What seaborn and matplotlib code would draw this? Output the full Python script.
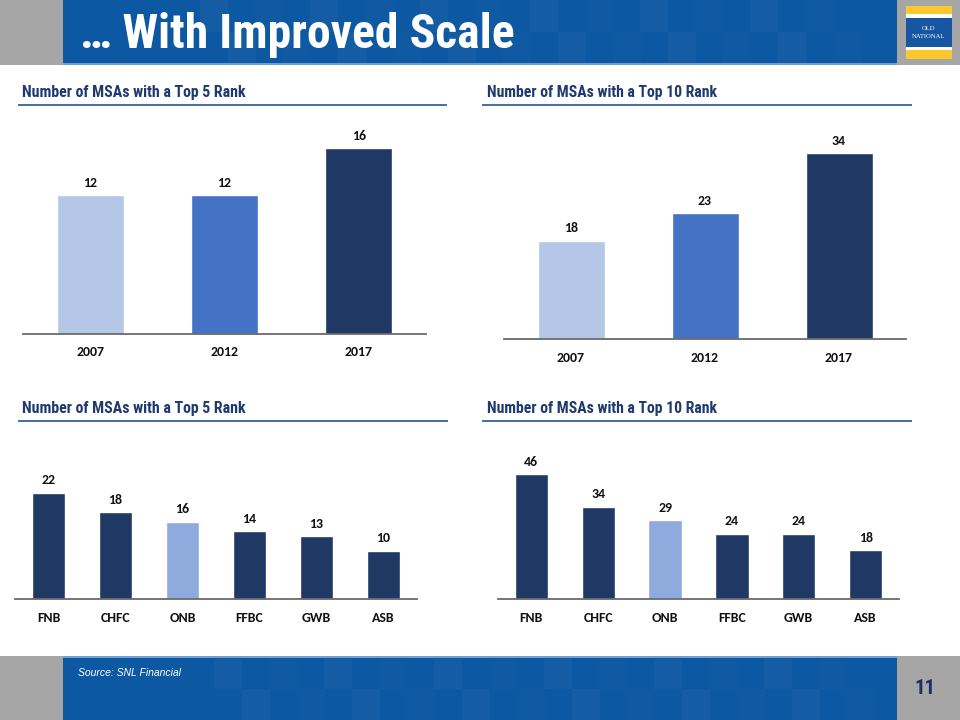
import matplotlib
matplotlib.use('Agg')
import matplotlib.pyplot as plt
import seaborn as sns
import pandas as pd
from matplotlib.patches import Rectangle
from matplotlib import font_manager as fm

# ---- data ----
years = ['2007', '2012', '2017']
top5_by_year = [12, 12, 16]
top10_by_year = [18, 23, 34]
banks = ['FNB', 'CHFC', 'ONB', 'FFBC', 'GWB', 'ASB']
top5_by_bank = [22, 18, 16, 14, 13, 10]
top10_by_bank = [46, 34, 29, 24, 24, 18]
year_colors = ['#B4C7E7', '#4472C4', '#203864']
bank_colors = ['#203864', '#203864', '#8FAADC', '#203864', '#203864', '#203864']

sns.set_theme(style='white')
CAL = ['Carlito', 'Lato', 'DejaVu Sans']
plt.rcParams['font.family'] = CAL

# choose the narrowest available sans for the Arial-Narrow style headings
ttf = fm.fontManager.ttflist
names = {f.name for f in ttf}
if 'Liberation Sans Narrow' in names:
    NARROW_KW = dict(family=['Liberation Sans Narrow', 'DejaVu Sans'])
elif 'Arial Narrow' in names:
    NARROW_KW = dict(family=['Arial Narrow', 'DejaVu Sans'])
elif 'Roboto Condensed' in names:
    NARROW_KW = dict(family=['Roboto Condensed', 'DejaVu Sans'])
elif any(f.name == 'DejaVu Sans' and 'condensed' in str(f.stretch).lower() for f in ttf):
    NARROW_KW = dict(family=['DejaVu Sans'], fontstretch='condensed')
elif 'Roboto' in names:
    NARROW_KW = dict(family=['Roboto', 'DejaVu Sans'])
else:
    NARROW_KW = dict(family=['Liberation Sans', 'DejaVu Sans'])

W, H = 960, 720
fig = plt.figure(figsize=(9.6, 7.2), dpi=100)
fig.patch.set_facecolor('white')
renderer = fig.canvas.get_renderer()


def fit_width(t, target):
    bb = t.get_window_extent(renderer)
    if bb.width > 0:
        t.set_fontsize(t.get_fontsize() * target / bb.width)


# background / decoration axes in pixel coordinates
bg = fig.add_axes([0, 0, 1, 1], zorder=-10)
bg.set_xlim(0, W)
bg.set_ylim(H, 0)
bg.axis('off')

GRAY = '#A6A6A6'
BLUE = '#0D58A3'
# header
bg.add_patch(Rectangle((0, 0), 63, 65, color=GRAY, lw=0))
bg.add_patch(Rectangle((63, 0), 834, 65, color=BLUE, lw=0))
bg.add_patch(Rectangle((897, 0), 63, 65, color=GRAY, lw=0))
bg.add_patch(Rectangle((63, 63), 834, 2, color='#6F9FD0', lw=0))
# footer
bg.add_patch(Rectangle((0, 656), 63, 64, color=GRAY, lw=0))
bg.add_patch(Rectangle((63, 656), 834, 64, color=BLUE, lw=0))
bg.add_patch(Rectangle((897, 656), 63, 64, color=GRAY, lw=0))
bg.add_patch(Rectangle((63, 656), 834, 2, color='#6F9FD0', lw=0))
# subtle checker shading on bands
for i in range(12):
    xx = 200 + i * 55
    a = 0.03 if i % 2 == 0 else 0.015
    bg.add_patch(Rectangle((xx, 0), 28, 32, color='white', alpha=a, lw=0))
    bg.add_patch(Rectangle((xx + 28, 32), 28, 31, color='white', alpha=a, lw=0))
    bg.add_patch(Rectangle((xx + 14, 658), 28, 31, color='white', alpha=a, lw=0))
    bg.add_patch(Rectangle((xx + 42, 689), 28, 31, color='white', alpha=a, lw=0))

# logo
bg.add_patch(Rectangle((906, 6), 46, 8, color='#FDC82F', lw=0))
bg.add_patch(Rectangle((906, 14), 46, 4, color='white', lw=0))
bg.add_patch(Rectangle((906, 18), 46, 29, color='#1656A3', lw=0))
bg.add_patch(Rectangle((906, 47), 46, 3, color='white', lw=0))
bg.add_patch(Rectangle((906, 50), 46, 9, color='#FDC82F', lw=0))
bg.text(929, 29, 'OLD', color='white', fontsize=4.8, ha='center', va='center',
        family=['Liberation Serif', 'DejaVu Serif'])
bg.text(929, 36, 'NATIONAL', color='white', fontsize=4.8, ha='center', va='center',
        family=['Liberation Serif', 'DejaVu Serif'])

title = bg.text(80, 35, '\u2026 With Improved Scale', color='white', fontsize=35,
                fontweight='bold', va='center', ha='left', **NARROW_KW)
fit_width(title, 434)
bg.text(78, 673, 'Source: SNL Financial', color='white', fontsize=7.5, fontstyle='italic',
        family=['Liberation Sans', 'DejaVu Sans'], va='center', ha='left')
bg.text(925, 688, '11', color='#1F2F66', fontsize=15, fontweight='bold', va='center',
        ha='center', **NARROW_KW)

TITLE_C = '#1F3A6E'
LINE_C = '#4A6AA5'
sections = [
    ('Number of MSAs with a Top 5 Rank', 22, 92, 18, 447, 105, 223),
    ('Number of MSAs with a Top 10 Rank', 487, 92, 482, 912, 105, 229),
    ('Number of MSAs with a Top 5 Rank', 22, 408, 18, 448, 421, 223),
    ('Number of MSAs with a Top 10 Rank', 487, 408, 482, 912, 421, 229),
]
for txt, tx, ty, lx0, lx1, ly, tw in sections:
    t = bg.text(tx, ty, txt, color=TITLE_C, fontsize=11, fontweight='bold',
                va='center', ha='left', **NARROW_KW)
    fit_width(t, tw)
    bg.plot([lx0, lx1], [ly, ly], color=LINE_C, lw=1.4, solid_capstyle='butt')


def px_axes(x0, y0, x1, y1):
    return fig.add_axes([x0 / W, 1 - y1 / H, (x1 - x0) / W, (y1 - y0) / H])


def draw(ax, cats, vals, colors, ymax):
    df = pd.DataFrame({'cat': cats, 'val': vals})
    sns.barplot(data=df, x='cat', y='val', hue='cat', palette=colors, width=0.5,
                saturation=1, legend=False, ax=ax, order=cats, hue_order=cats)
    ax.set_xlim(-0.5, len(cats) - 0.5)
    ax.set_ylim(0, ymax)
    for c in ax.containers:
        ax.bar_label(c, fmt='%d', padding=4.5, fontsize=10, fontweight='bold', color='#111111')
    for s in ['top', 'left', 'right']:
        ax.spines[s].set_visible(False)
    ax.spines['bottom'].set_color('#6A6A6A')
    ax.spines['bottom'].set_linewidth(1.3)
    ax.set_yticks([])
    ax.set_xlabel('')
    ax.set_ylabel('')
    ax.tick_params(axis='x', length=0, pad=9, labelsize=10, labelcolor='#111111')
    for lab in ax.get_xticklabels():
        lab.set_fontweight('bold')
    ax.set_facecolor('none')


ax1 = px_axes(23, 120, 426, 334)
draw(ax1, years, top5_by_year, year_colors, 214 / 11.6)
ax2 = px_axes(504, 120, 906, 339)
draw(ax2, years, top10_by_year, year_colors, 219 / 5.46)
ax3 = px_axes(15, 440, 417, 599)
draw(ax3, banks, top5_by_bank, bank_colors, 159 / 4.83)
ax4 = px_axes(498, 440, 899, 599)
draw(ax4, banks, top10_by_bank, bank_colors, 159 / 2.72)

fig.savefig('out.png', dpi=100)
